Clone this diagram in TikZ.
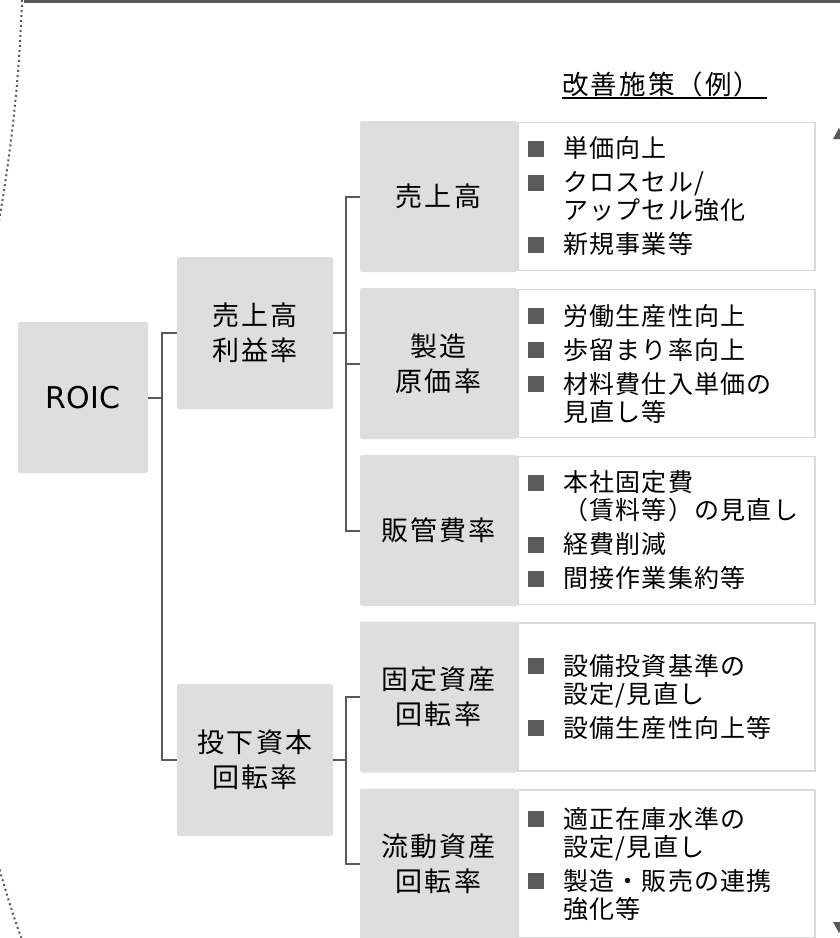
\documentclass[tikz,border=0pt]{standalone}
\usepackage{fontspec}
\setmainfont{Noto Sans CJK JP}
\newfontfamily\listfont[LetterSpace=5]{Noto Sans CJK JP}
\newfontfamily\lblfont[LetterSpace=8]{Noto Sans CJK JP}
\newfontfamily\roicfont{DejaVu Sans}
\usetikzlibrary{calc}
\definecolor{boxgray}{HTML}{DEDEDE}
\definecolor{linegray}{HTML}{595959}
\definecolor{bordergray}{HTML}{DADADA}
\definecolor{bulletgray}{HTML}{5A5A5A}
\newcommand{\bsq}{\makebox[35pt][l]{\textcolor{bulletgray}{\rule[1.3pt]{16pt}{16pt}}}}
\newcommand{\bitem}[1]{\par\noindent\hangindent=35pt\hangafter=1\bsq#1}
\newcommand{\blist}[1]{\begin{minipage}{290pt}\listfont\fontsize{25}{28}\selectfont\setlength{\parskip}{6pt}#1\end{minipage}}
\tikzset{
  lbl/.style={fill=boxgray, rounded corners=2pt, minimum width=157pt, minimum height=151pt, inner sep=0pt, align=center, font=\lblfont\fontsize{27}{35}\selectfont},
  midbox/.style={fill=boxgray, rounded corners=2pt, minimum width=156pt, minimum height=152pt, inner sep=0pt, align=center, font=\lblfont\fontsize{27}{35}\selectfont},
  wbox/.style={draw=bordergray, line width=1.5pt, fill=white, minimum width=297pt, minimum height=148pt, inner sep=0pt},
  listnode/.style={anchor=west, inner sep=0pt},
  conn/.style={draw=linegray, line width=2pt},
  dots/.style={draw=linegray, line width=2pt, dash pattern=on 2pt off 3pt}
}
\begin{document}
\begin{tikzpicture}[x=1pt,y=-1pt]
\useasboundingbox (0,0) rectangle (840,938);
\clip (0,0) rectangle (840,938);
% frame decorations
\draw[linegray, line width=3pt] (24,1.5) -- (845,1.5);
\draw[dots] (22,0) .. controls (19,90) and (9,170) .. (-8,260);
\draw[dots] (-3,860) .. controls (5,890) and (13,915) .. (22,940);
\fill[linegray] (833,139) -- (839,128) -- (845,139) -- cycle;
\fill[linegray] (833,922) -- (839,933) -- (845,922) -- cycle;
% title
\node[anchor=base west, inner sep=0pt, font=\lblfont\fontsize{26.5}{30}\selectfont] (title) at (562,94) {改善施策（例）};
\coordinate (ulend) at (767,98);
\draw[black, line width=1.5pt] ([yshift=-4pt]title.base west) -- (ulend);
% ROIC
\node[fill=boxgray, rounded corners=2pt, minimum width=130pt, minimum height=151pt, inner sep=0pt, font=\roicfont\fontsize{30}{36}\selectfont] (roic) at (83,397.5) {ROIC};
% middle level
\node[midbox] (m1) at (255,333) {売上高\\利益率};
\node[midbox] (m2) at (255,760) {投下資本\\回転率};
% right rows: labels
\node[lbl] (r1) at (438.5,196.5) {売上高};
\node[lbl] (r2) at (438.5,363.5) {製造\\原価率};
\node[lbl] (r3) at (438.5,530.5) {販管費率};
\node[lbl] (r4) at (438.5,697) {固定資産\\回転率};
\node[lbl] (r5) at (438.5,864) {流動資産\\回転率};
% white boxes
\node[wbox] (w1) at (666.25,196.5) {};
\node[wbox] (w2) at (666.25,363.5) {};
\node[wbox] (w3) at (666.25,530.5) {};
\node[wbox] (w4) at (666.25,697) {};
\node[wbox] (w5) at (666.25,864) {};
% lists
\node[listnode] (t1) at (528,196.5) {\blist{\bitem{単価向上}\bitem{クロスセル/\\アップセル強化}\bitem{新規事業等}}};
\node[listnode] (t2) at (528,363.5) {\blist{\bitem{労働生産性向上}\bitem{歩留まり率向上}\bitem{材料費仕入単価の\\見直し等}}};
\node[listnode] (t3) at (528,530.5) {\blist{\bitem{本社固定費\\（賃料等）の見直し}\bitem{経費削減}\bitem{間接作業集約等}}};
\node[listnode] (t4) at (528,697) {\blist{\bitem{設備投資基準の\\設定/見直し}\bitem{設備生産性向上等}}};
\node[listnode] (t5) at (528,864) {\blist{\bitem{適正在庫水準の\\設定/見直し}\bitem{製造・販売の連携\\強化等}}};
% connectors
\draw[conn] (roic.east) -- ++(14,0) coordinate (b1);
\draw[conn] (b1) |- (m1.west);
\draw[conn] (b1) |- (m2.west);
\draw[conn] (m1.east) -- ++(13,0) coordinate (b2);
\draw[conn] (b2) |- (r1.west);
\draw[conn] (b2) |- (r2.west);
\draw[conn] (b2) |- (r3.west);
\draw[conn] (m2.east) -- ++(13,0) coordinate (b3);
\draw[conn] (b3) |- (r4.west);
\draw[conn] (b3) |- (r5.west);
\end{tikzpicture}
\end{document}
